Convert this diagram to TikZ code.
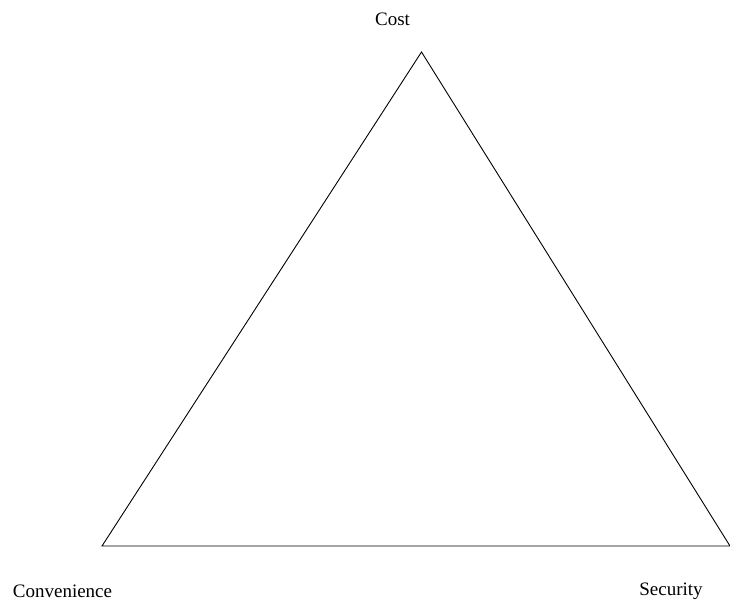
\documentclass[tikz,border=0pt]{standalone}
\usepackage{fontspec}
\setmainfont{Liberation Serif}
\usepackage{tikz}
\usetikzlibrary{positioning}

\begin{document}
\begin{tikzpicture}[x=1pt, y=-1pt,
  every node/.style={font=\fontsize{19}{23}\selectfont, inner sep=0pt},
  corner/.style={anchor=base},
  edge/.style={line width=0.9pt}]
\useasboundingbox (0,0) rectangle (730,601);
% triangle corners
\coordinate (top) at (421.5,52);
\coordinate (left) at (102,546);
\coordinate (right) at (730,546);
\draw[edge] (top) -- (left) -- (right) -- cycle;
% labels
\node[corner] (cost) at (392.5,26) {Cost};
\node[corner] (conv) at (62.5,597) {Convenience};
\node[corner] (sec) at (671,595) {Security};
\end{tikzpicture}
\end{document}
